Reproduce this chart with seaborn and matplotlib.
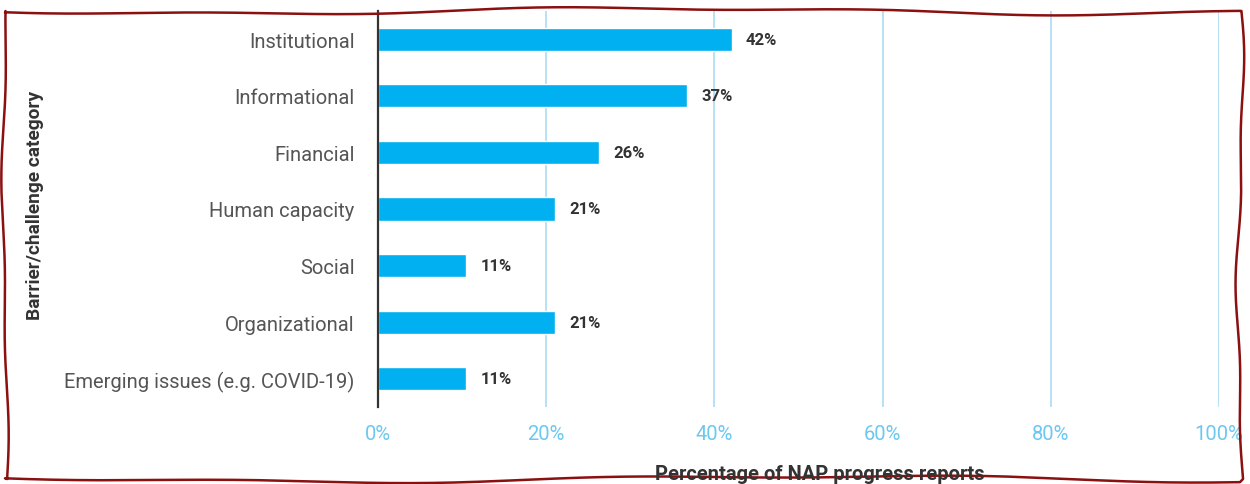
import numpy as np
import pandas as pd
import matplotlib
matplotlib.use("Agg")
import matplotlib.pyplot as plt
import seaborn as sns
from matplotlib.lines import Line2D

categories = ["Institutional", "Informational", "Financial", "Human capacity",
              "Social", "Organizational", "Emerging issues (e.g. COVID-19)"]
values = [42.1, 36.8, 26.3, 21.1, 10.5, 21.1, 10.5]
value_labels = ["42%", "37%", "26%", "21%", "11%", "21%", "11%"]
xticks = [0, 20, 40, 60, 80, 100]
xtick_labels = ["0%", "20%", "40%", "60%", "80%", "100%"]

sns.set_theme(style="white")
plt.rcParams["font.family"] = ["Roboto", "DejaVu Sans"]

df = pd.DataFrame({"category": categories, "value": values})

fig = plt.figure(figsize=(12.5, 4.85), dpi=100)
ax = fig.add_axes([0.3024, 0.1588, 0.6728, 0.8165])

sns.barplot(data=df, x="value", y="category", orient="h", color="#00b0f0",
            saturation=1, width=0.41, ax=ax, zorder=3)

ax.set_xlim(0, 100)
ax.set_ylim(6.5, -0.5)
ax.set_xticks(xticks)
ax.set_xticklabels(xtick_labels, color="#6cc8f0", fontsize=14.5)
ax.tick_params(axis="x", length=0, pad=12)
ax.tick_params(axis="y", length=0, pad=17, labelsize=14.5, labelcolor="#555555")
for xv in xticks[1:]:
    ax.axvline(xv, color="#aadcf5", lw=1.2, zorder=1)
for s in ["top", "right", "bottom"]:
    ax.spines[s].set_visible(False)
ax.spines["left"].set_color("#333333")
ax.spines["left"].set_linewidth(1.6)
ax.spines["left"].set_zorder(4)
ax.set_xlabel("")
ax.set_ylabel("")

for i, (v, lab) in enumerate(zip(values, value_labels)):
    ax.annotate(lab, xy=(v, i), xytext=(10, 0), textcoords="offset points",
                va="center", ha="left", fontsize=12, fontweight="bold", color="#333333")

fig.text(0.656, 0.022, "Percentage of NAP progress reports", ha="center", va="center",
         fontsize=14.5, fontweight="bold", color="#333333")
fig.text(0.028, 0.577, "Barrier/challenge category", ha="center", va="center",
         rotation=90, fontsize=13.8, fontweight="bold", color="#333333")

# wavy torn-paper border
t = np.linspace(0, 1, 400)
W, H = 1250.0, 485.0
top_x = 5 + t * 1235
top_y = 12 + 3 * np.sin(t * 9.0) + 1.5 * np.sin(t * 23 + 1)
right_y = 12 + t * 468
right_x = 1240 + 3 * np.sin(t * 7 + 0.5) + 1.5 * np.sin(t * 19)
bot_x = 1240 - t * 1235
bot_y = 480 + 3 * np.sin(t * 8 + 2) + 1.5 * np.sin(t * 21 + 0.3)
left_y = 480 - t * 468
left_x = 5 + 2.5 * np.sin(t * 6 + 1) + 1.2 * np.sin(t * 17)
bx = np.concatenate([top_x, right_x, bot_x, left_x])
by = np.concatenate([top_y, right_y, bot_y, left_y])
fig.add_artist(Line2D(bx / W, 1 - by / H, transform=fig.transFigure,
                      color="#8b1010", lw=1.8))

fig.savefig("out.png", dpi=100)
